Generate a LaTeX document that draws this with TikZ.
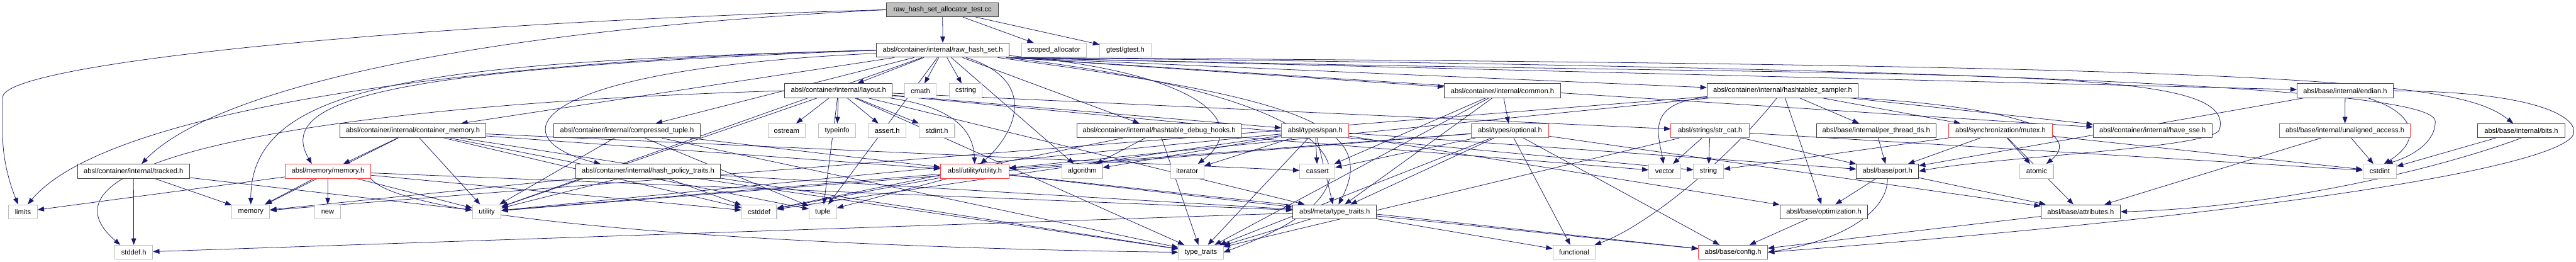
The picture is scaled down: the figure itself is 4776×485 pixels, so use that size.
\documentclass[tikz,border=0pt]{standalone}
\usepackage{fontspec}
\setmainfont{Liberation Sans}
\usetikzlibrary{arrows.meta}
\definecolor{edgeblue}{HTML}{191970}
\definecolor{sysgray}{HTML}{BFBFBF}
\definecolor{boxdark}{HTML}{404040}
\definecolor{redbox}{HTML}{FF3C3C}
\pgfdeclarelayer{edgelayer}
\pgfsetlayers{edgelayer,main}
\begin{document}
\begin{tikzpicture}[x=1pt,y=-1pt,
  font=\fontsize{13}{15}\selectfont,
  base/.style={rectangle, minimum height=26pt, inner sep=0pt, line width=1.2pt, text=black, fill=white},
  hdr/.style={base, draw=boxdark},
  sys/.style={base, draw=sysgray},
  redh/.style={base, draw=redbox},
  root/.style={base, draw=boxdark, fill=sysgray},
  edge/.style={draw=edgeblue, line width=0.9pt, -{Triangle[length=12pt,width=9pt]}}]
\useasboundingbox (0,0) rectangle (4776,485);
% row 0
\node[root, minimum width=207pt] (T) at (1747.5,18) {raw\_hash\_set\_allocator\_test.cc};
% row 1
\node[hdr, minimum width=246pt] (rhs) at (1748,93) {absl/container/internal/raw\_hash\_set.h};
\node[sys, minimum width=120pt] (scoped) at (1954,93) {scoped\_allocator};
\node[sys, minimum width=95pt] (gtest) at (2086.5,93) {gtest/gtest.h};
% row 2
\node[hdr, minimum width=199pt] (layout) at (1554.5,168) {absl/container/internal/layout.h};
\node[sys, minimum width=59pt] (cmath) at (1706.5,168) {cmath};
\node[sys, minimum width=61pt] (cstring) at (1790.5,168) {cstring};
\node[hdr, minimum width=215pt] (common) at (2785.5,168) {absl/container/internal/common.h};
\node[hdr, minimum width=280pt] (sampler) at (3305,168) {absl/container/internal/hashtablez\_sampler.h};
\node[hdr, minimum width=178pt] (endian) at (4348,168) {absl/base/internal/endian.h};
% row 3
\node[hdr, minimum width=271pt] (cmem) at (765.5,242) {absl/container/internal/container\_memory.h};
\node[hdr, minimum width=271pt] (ctuple) at (1162.5,242) {absl/container/internal/compressed\_tuple.h};
\node[sys, minimum width=69pt] (ostream) at (1458.5,242) {ostream};
\node[sys, minimum width=68pt] (typeinfo) at (1552,242) {typeinfo};
\node[sys, minimum width=70pt] (asserth) at (1645,242) {assert.h};
\node[sys, minimum width=66pt] (stdinth) at (1737,242) {stdint.h};
\node[hdr, minimum width=304pt] (hooks) at (2149,242) {absl/container/internal/hashtable\_debug\_hooks.h};
\node[redh, minimum width=125pt] (span) at (2438.5,242) {absl/types/span.h};
\node[redh, minimum width=143pt] (optional) at (2799.5,242) {absl/types/optional.h};
\node[redh, minimum width=145pt] (strcat) at (3170.5,242) {absl/strings/str\_cat.h};
\node[hdr, minimum width=221pt] (tls) at (3478.5,242) {absl/base/internal/per\_thread\_tls.h};
\node[redh, minimum width=192pt] (mutex) at (3709,242) {absl/synchronization/mutex.h};
\node[hdr, minimum width=220pt] (sse) at (3991,242) {absl/container/internal/have\_sse.h};
\node[redh, minimum width=243pt] (unaligned) at (4347.5,242) {absl/base/internal/unaligned\_access.h};
\node[hdr, minimum width=161pt] (bits) at (4674.5,242) {absl/base/internal/bits.h};
% row 4
\node[hdr, minimum width=207pt] (tracked) at (247.5,317) {absl/container/internal/tracked.h};
\node[redh, minimum width=158pt] (memoryh) at (608,317) {absl/memory/memory.h};
\node[hdr, minimum width=269pt] (hpt) at (1201.5,317) {absl/container/internal/hash\_policy\_traits.h};
\node[redh, minimum width=127pt] (utilh) at (1807.5,317) {absl/utility/utility.h};
\node[sys, minimum width=75pt] (algorithm) at (2006.5,317) {algorithm};
\node[sys, minimum width=62pt] (iterator) at (2201,317) {iterator};
\node[sys, minimum width=65pt] (cassert) at (2442.5,317) {cassert};
\node[sys, minimum width=59pt] (vector) at (3086.5,317) {vector};
\node[sys, minimum width=55pt] (string) at (3167.5,317) {string};
\node[hdr, minimum width=115pt] (port) at (3499.5,317) {absl/base/port.h};
\node[sys, minimum width=62pt] (atomic) at (3776,317) {atomic};
\node[sys, minimum width=62pt] (cstdint) at (4412,317) {cstdint};
% row 5
\node[sys, minimum width=53pt] (limits) at (42.5,392) {limits};
\node[sys, minimum width=70pt] (memory) at (465,392) {memory};
\node[sys, minimum width=47pt] (new) at (607.5,392) {new};
\node[sys, minimum width=53pt] (utility) at (902.5,392) {utility};
\node[sys, minimum width=65pt] (cstddef) at (1407.5,392) {cstddef};
\node[sys, minimum width=51pt] (tuple) at (1525.5,392) {tuple};
\node[hdr, minimum width=155pt] (mtt) at (2474.5,392) {absl/meta/type\_traits.h};
\node[hdr, minimum width=163pt] (optim) at (3381.5,392) {absl/base/optimization.h};
\node[hdr, minimum width=147pt] (attrs) at (3857.5,392) {absl/base/attributes.h};
% row 6
\node[sys, minimum width=70pt] (stddefh) at (248,467) {stddef.h};
\node[sys, minimum width=83pt] (typetraits) at (2226.5,467) {type\_traits};
\node[sys, minimum width=79pt] (functional) at (2918.5,467) {functional};
\node[redh, minimum width=128pt] (config) at (3213,467) {absl/base/config.h};

\begin{pgfonlayer}{edgelayer}
% ---- test file
\draw[edge] (T) -- (rhs);
\draw[edge] (T) -- (scoped);
\draw[edge] (T) -- (gtest);
\draw[edge] (T.west) .. controls (700,45) and (5,120) .. (5,180) -- (5,250) .. controls (5,300) and (20,345) .. ([xshift=-9pt]limits.north);
\draw[edge] (T.west) .. controls (800,60) and (380,180) .. ([xshift=15pt]tracked.north);
% ---- raw_hash_set.h
\draw[edge] (rhs.west) .. controls (900,110) and (200,200) .. ([xshift=9pt]limits.north);
\draw[edge] (rhs) -- (cmath);
\draw[edge] (rhs) -- (cstring);
\draw[edge] (rhs) -- (layout);
\draw[edge] (rhs) -- (cmem);
\draw[edge] (rhs) -- (ctuple);
\draw[edge] (rhs) -- (hooks);
\draw[edge] (rhs.south east) -- (common);
\draw[edge] (rhs.south east) -- (sampler);
\draw[edge] (rhs.south east) -- (endian);
\draw[edge] (rhs.south east) -- (sse);
\draw[edge] (rhs.west) .. controls (800,115) and (465,150) .. (memory);
\draw[edge] (rhs.west) .. controls (800,125) and (500,170) .. ([xshift=-30pt]memoryh.north);
\draw[edge] (rhs) .. controls (950,130) and (930,260) .. ([xshift=-88pt]hpt.north);
\draw[edge] (rhs) .. controls (1930,150) and (1880,250) .. ([xshift=10pt]utilh.north);
\draw[edge] (rhs) .. controls (2200,130) and (2330,220) .. ([xshift=20pt]iterator.north);
\draw[edge] (rhs) -- (algorithm);
\draw[edge] (rhs) -- (tuple);
\draw[edge] (rhs) .. controls (2500,180) and (2620,340) .. (typetraits.east);
\draw[edge] (rhs) -- (utility);
\draw[edge] (rhs) .. controls (2400,180) and (2560,230) .. (mtt);
\draw[edge] (rhs.south east) .. controls (4300,120) and (4560,150) .. ([xshift=-15pt]bits.north);
\draw[edge] (rhs.south east) .. controls (4300,130) and (4515,190) .. (4515,225) .. controls (4515,265) and (4470,290) .. ([xshift=12pt]cstdint.north);
\draw[edge] (rhs.south east) .. controls (3600,150) and (4150,110) .. (4115,240) .. controls (4100,275) and (3700,290) .. (port.east);
% ---- tracked.h
\draw[edge] (tracked) -- (stddefh);
\draw[edge] (tracked) -- (memory);
\draw[edge] (tracked) -- (utility);
% ---- memory.h
\draw[edge] (memoryh) -- (cstddef);
\draw[edge] (memoryh) -- (limits);
\draw[edge] (memoryh) -- (memory);
\draw[edge] (memoryh) -- (new);
\draw[edge] (memoryh.south east) .. controls (760,420) and (1600,460) .. (typetraits.west);
\draw[edge] (memoryh) -- (utility);
\draw[edge] (memoryh) -- (mtt);
% ---- container_memory.h
\draw[edge] (cmem) -- (cassert);
\draw[edge] (cmem) -- (cstddef);
\draw[edge] (cmem) -- (memory);
\draw[edge] (cmem) -- (tuple);
\draw[edge] (cmem) -- (typetraits);
\draw[edge] (cmem) -- (utility);
\draw[edge] (cmem) -- (memoryh);
\draw[edge] (cmem) -- (utilh);
% ---- compressed_tuple.h
\draw[edge] (ctuple) -- (tuple);
\draw[edge] (ctuple) -- (typetraits);
\draw[edge] (ctuple) -- (utility);
\draw[edge] (ctuple) -- (utilh);
% ---- hash_policy_traits.h
\draw[edge] (hpt) -- (cstddef);
\draw[edge] (hpt) -- (memory);
\draw[edge] (hpt) -- (typetraits);
\draw[edge] (hpt) -- (utility);
\draw[edge] (hpt) -- (mtt);
% ---- layout.h
\draw[edge] (layout) -- (asserth);
\draw[edge] (layout.west) .. controls (700,190) and (20,280) .. ([xshift=-25pt]stddefh.north);
\draw[edge] (layout) -- (stdinth);
\draw[edge] (layout) -- (ostream);
\draw[edge] (layout) -- (string);
\draw[edge] (layout) -- (tuple);
\draw[edge] (layout) -- (typetraits);
\draw[edge] (layout) -- (typeinfo);
\draw[edge] (layout) -- (utility);
\draw[edge] (layout) -- (mtt);
\draw[edge] (layout) -- (strcat);
\draw[edge] (layout) -- (span);
\draw[edge] (layout) .. controls (1780,200) and (1805,250) .. (utilh);
% ---- hashtable_debug_hooks.h
\draw[edge] (hooks) -- (algorithm);
\draw[edge] (hooks) -- (cstddef);
\draw[edge] (hooks) -- (typetraits);
\draw[edge] (hooks) -- (vector);
% ---- common.h
\draw[edge] (common) -- (cassert);
\draw[edge] (common) -- (typetraits);
\draw[edge] (common) -- (mtt);
\draw[edge] (common) -- (optional);
% ---- hashtablez_sampler.h
\draw[edge] (sampler.south east) .. controls (3760,200) and (3860,250) .. ([xshift=18pt]atomic.north);
\draw[edge] (sampler) .. controls (3200,300) and (3050,420) .. (functional);
\draw[edge] (sampler) -- (memory);
\draw[edge] (sampler) .. controls (3050,190) and (3075,250) .. (vector);
\draw[edge] (sampler) -- (tls);
\draw[edge] (sampler) -- (optim);
\draw[edge] (sampler) -- (sse);
\draw[edge] (sampler) -- (mutex);
\draw[edge] (sampler) -- (utilh);
% ---- endian.h
\draw[edge] (endian) .. controls (4480,210) and (4490,260) .. ([xshift=8pt]cstdint.north);
\draw[edge] (endian.east) .. controls (4700,170) and (4775,215) .. (4772,245) .. controls (4770,300) and (4300,390) .. (config.east);
\draw[edge] (endian) -- (unaligned);
\draw[edge] (endian) -- (port);
% ---- span.h
\draw[edge] (span) -- (algorithm);
\draw[edge] (span) -- (cassert);
\draw[edge] (span) -- (cstddef);
\draw[edge] (span) -- (iterator);
\draw[edge] (span) -- (typetraits);
\draw[edge] (span) -- (utility);
\draw[edge] (span) -- (optim);
\draw[edge] (span) -- (port);
\draw[edge] (span) -- (mtt);
% ---- optional.h
\draw[edge] (optional) -- (functional);
\draw[edge] (optional) -- (typetraits);
\draw[edge] (optional) -- (utility);
\draw[edge] (optional) -- (config);
\draw[edge] (optional) -- (mtt);
\draw[edge] (optional) -- (utilh);
\draw[edge] (optional) -- (attrs);
\draw[edge] (optional) -- (cassert);
% ---- str_cat.h
\draw[edge] (strcat) -- (cstdint);
\draw[edge] (strcat) -- (string);
\draw[edge] (strcat) -- (vector);
\draw[edge] (strcat) -- (port);
\draw[edge] (strcat) -- (typetraits);
% ---- others
\draw[edge] (tls) -- (port);
\draw[edge] (mutex) -- (atomic);
\draw[edge] (mutex) -- (cstdint);
\draw[edge] (mutex) -- (string);
\draw[edge] (mutex) -- (attrs);
\draw[edge] (mutex) -- (port);
\draw[edge] (unaligned) -- (cstdint);
\draw[edge] (unaligned) -- (attrs);
\draw[edge] (bits) -- (cstdint);
\draw[edge] (bits.south) .. controls (4500,320) and (4200,385) .. (attrs.east);
\draw[edge] (utilh) -- (cstddef);
\draw[edge] (utilh) -- (tuple);
\draw[edge] (utilh) -- (utility);
\draw[edge] (utilh) -- (config);
\draw[edge] (utilh) -- (mtt);
\draw[edge] (port) -- (attrs);
\draw[edge] (port.south) .. controls (3500,390) and (3420,445) .. (config.east);
\draw[edge] (port) -- (optim);
\draw[edge] (optim) -- (config);
\draw[edge] (mtt) -- (stddefh);
\draw[edge] (mtt) -- (functional);
\draw[edge] (mtt) -- (typetraits);
\draw[edge] (mtt) -- (config);
\draw[edge] (attrs) -- (config);
\end{pgfonlayer}
\end{tikzpicture}
\end{document}
